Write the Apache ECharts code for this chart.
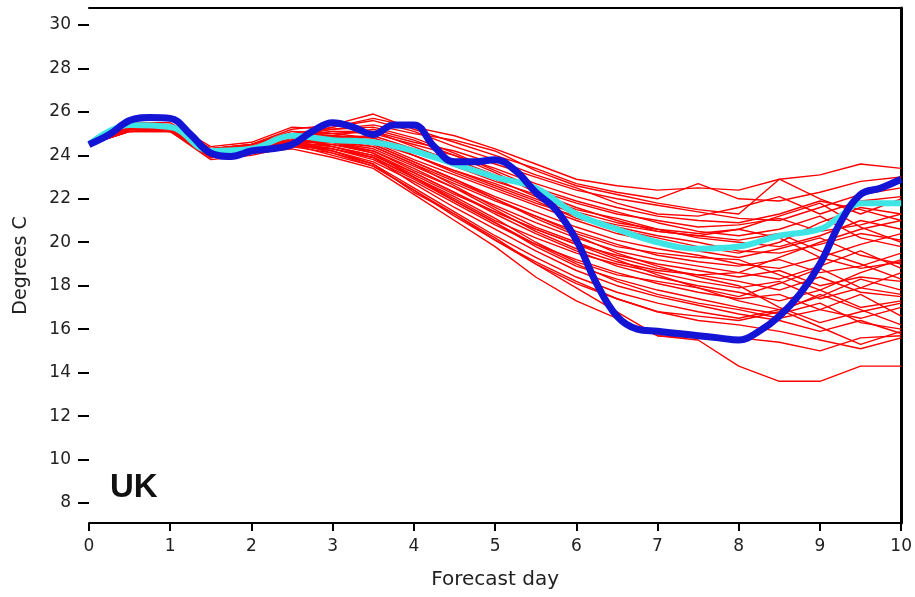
<!DOCTYPE html>
<html>
<head>
<meta charset="utf-8">
<script src="https://cdn.jsdelivr.net/npm/echarts@6/dist/echarts.min.js"></script>
<style>
html,body{margin:0;padding:0;background:#fff;}
#chart{width:915px;height:597px;}
</style>
</head>
<body>
<div id="chart"></div>
<script>
// ---- data ----
const memberDays = [0,0.5,1,1.5,2,2.5,3,3.5,4,4.5,5,5.5,6,6.5,7,7.5,8,8.5,9,9.5,10];
const members = [
  [24.5,25.4,25.4,24.3,24.4,25.0,25.3,25.7,25.3,24.9,24.3,23.6,22.9,22.6,22.4,22.5,22.4,22.9,23.1,23.6,23.4],
  [24.5,25.3,25.3,24.2,24.5,25.2,25.4,25.9,25.2,24.6,24.0,23.4,22.7,22.3,22.0,22.7,22.0,21.9,22.3,22.8,23.0],
  [24.5,25.5,25.5,24.4,24.6,25.3,25.2,25.4,25.0,24.7,24.2,23.3,22.6,22.2,21.8,21.5,21.3,22.9,22.0,21.3,22.0],
  [24.5,25.2,25.2,24.0,24.3,24.9,25.0,25.1,24.6,24.2,23.6,23.0,22.4,22.0,21.7,21.4,21.1,21.0,21.6,22.2,22.5],
  [24.5,25.4,25.3,24.1,24.3,24.8,25.1,25.0,24.5,24.0,23.4,22.7,22.1,21.6,21.2,21.0,20.9,21.3,21.9,21.5,21.0],
  [24.5,25.3,25.2,23.9,24.1,24.6,24.8,24.9,24.3,23.8,23.1,22.4,21.8,21.3,21.0,20.7,20.8,21.1,20.5,20.8,21.3],
  [24.5,25.5,25.4,24.2,24.4,24.9,25.2,25.3,24.8,24.1,23.3,22.5,21.9,21.4,20.9,20.5,20.3,20.6,21.2,20.2,19.8],
  [24.5,25.2,25.1,24.0,24.2,24.7,24.9,24.8,24.2,23.5,22.8,22.2,21.5,21.1,20.6,20.2,20.0,19.8,20.3,21.0,20.6],
  [24.5,25.4,25.4,24.3,24.5,25.1,25.0,24.8,24.0,23.3,22.7,22.0,21.3,20.7,20.3,20.0,19.6,19.5,19.9,20.4,20.1],
  [24.5,25.3,25.3,24.1,24.4,24.8,24.9,24.6,23.8,23.1,22.4,21.7,21.0,20.4,20.0,19.6,19.3,19.7,20.2,19.4,19.0],
  [24.5,25.1,25.2,24.0,24.2,24.6,24.7,24.5,23.7,22.9,22.1,21.4,20.7,20.1,19.7,19.4,19.0,18.8,19.3,19.9,20.4],
  [24.5,25.4,25.3,24.2,24.3,24.7,24.6,24.3,23.5,22.7,21.9,21.2,20.5,19.9,19.4,19.1,18.9,19.2,18.6,18.9,19.5],
  [24.5,25.2,25.2,23.9,24.1,24.5,24.5,24.2,23.3,22.5,21.7,20.9,20.2,19.6,19.2,18.9,18.6,18.3,18.9,19.6,18.8],
  [24.5,25.3,25.3,24.1,24.3,24.6,24.4,24.0,23.1,22.2,21.4,20.6,19.9,19.4,19.0,18.7,18.4,18.7,18.0,18.4,18.2],
  [24.5,25.5,25.4,24.3,24.4,24.8,24.7,24.4,23.6,22.6,21.6,20.7,20.0,19.3,18.8,18.5,18.2,17.8,18.4,17.7,17.5],
  [24.5,25.1,25.1,23.8,24.0,24.4,24.3,23.9,23.0,22.0,21.0,20.2,19.5,19.0,18.6,18.2,17.9,18.2,17.4,17.9,18.6],
  [24.5,25.4,25.3,24.2,24.4,24.7,24.5,24.1,23.2,22.3,21.3,20.4,19.6,18.9,18.4,18.0,17.7,17.3,17.8,17.0,17.3],
  [24.5,25.2,25.2,24.0,24.2,24.5,24.2,23.7,22.8,21.8,20.8,19.9,19.2,18.6,18.1,17.7,17.4,17.6,16.9,16.5,17.0],
  [24.5,25.3,25.2,24.1,24.3,24.6,24.3,23.8,22.9,21.9,20.9,19.8,18.9,18.3,17.8,17.4,17.0,16.7,17.2,16.3,16.0],
  [24.5,25.4,25.4,24.2,24.4,24.8,24.4,23.9,22.7,21.6,20.6,19.6,18.7,18.0,17.5,17.1,16.7,16.4,15.9,16.4,15.8],
  [24.5,25.2,25.3,24.0,24.2,24.4,24.1,23.6,22.5,21.4,20.3,19.3,18.4,17.7,17.2,16.8,16.5,16.9,16.1,15.3,15.9],
  [24.5,25.3,25.2,24.1,24.3,24.5,24.0,23.5,22.4,21.2,20.1,19.0,18.1,17.4,16.8,16.4,16.2,15.9,15.5,15.1,15.6],
  [24.5,25.1,25.2,23.9,24.1,24.3,23.9,23.4,22.2,21.0,19.8,18.4,17.3,16.5,15.7,15.6,15.6,15.4,15.0,15.6,15.7],
  [24.5,25.4,25.3,24.2,24.3,24.6,24.2,23.6,22.3,21.3,20.2,19.0,17.9,16.8,15.7,15.5,14.3,13.6,13.6,14.3,14.3],
  [24.5,25.3,25.4,24.3,24.5,25.0,24.9,24.7,24.0,23.2,22.5,21.8,21.2,20.8,20.5,20.3,20.1,20.4,19.6,19.0,18.3],
  [24.5,25.2,25.2,24.0,24.2,24.6,24.6,24.4,23.6,22.8,22.0,21.2,20.4,19.8,19.5,19.3,19.2,18.5,17.8,18.6,19.2],
  [24.5,25.4,25.3,24.1,24.3,24.7,24.6,24.2,23.4,22.5,21.5,20.5,19.7,19.1,18.7,18.5,18.6,19.3,20.0,20.6,21.0],
  [24.5,25.3,25.3,24.2,24.4,24.9,24.8,24.5,23.7,22.9,22.0,21.1,20.3,19.5,18.9,18.4,18.0,17.0,16.3,16.8,17.2],
  [24.5,25.1,25.1,23.9,24.1,24.5,24.3,23.9,23.0,22.1,21.1,20.0,19.1,18.5,18.2,17.9,17.5,18.1,18.8,17.9,17.6],
  [24.5,25.4,25.4,24.2,24.4,24.9,25.1,25.1,24.4,23.7,22.9,22.1,21.4,20.9,20.6,20.4,20.6,20.2,19.3,18.8,19.1],
  [24.5,25.3,25.2,24.1,24.3,24.7,24.8,24.6,24.0,23.3,22.6,21.9,21.1,20.6,20.2,19.8,19.5,20.0,20.9,21.6,21.3],
  [24.5,25.2,25.3,24.0,24.2,24.6,24.4,24.0,23.2,22.3,21.4,20.6,19.9,19.2,18.5,17.9,17.3,16.9,17.5,18.3,17.8],
  [24.5,25.5,25.4,24.3,24.5,25.0,24.6,24.1,23.0,21.9,20.9,19.9,19.0,18.2,17.6,17.2,16.9,16.5,16.9,17.6,16.6],
  [24.5,25.3,25.3,24.1,24.3,24.6,24.1,23.5,22.4,21.3,20.1,19.1,18.2,17.4,16.8,16.6,16.4,16.8,17.6,16.9,16.2],
  [24.5,25.4,25.3,24.2,24.4,24.8,25.3,25.6,25.1,24.4,23.8,23.1,22.5,21.8,21.3,21.2,21.6,22.1,21.3,21.9,22.1],
  [24.5,25.2,25.1,23.9,24.1,24.5,24.9,25.2,24.7,24.0,23.2,22.3,21.6,21.0,20.5,20.3,20.6,21.2,21.8,20.7,20.0]
];
const meanDays = [0,0.5,1,1.5,2,2.5,3,3.5,4,4.5,5,5.5,6,6.5,7,7.5,8,8.5,9,9.25,9.5,10];
const meanValues = [24.5,25.4,25.3,24.2,24.3,24.9,24.7,24.6,24.2,23.6,23.0,22.5,21.3,20.6,20.0,19.7,19.8,20.3,20.6,21.2,21.8,21.8];
const obsDays = [0,0.25,0.5,0.75,1,1.25,1.5,1.75,2,2.25,2.5,2.75,3,3.25,3.5,3.75,4,4.25,4.5,4.75,5,5.25,5.5,5.75,6,6.25,6.5,6.75,7,7.25,7.5,7.75,8,8.25,8.5,8.75,9,9.25,9.5,9.75,10];
const obsValues = [24.5,24.96,25.6,25.74,25.7,24.96,24.1,23.95,24.2,24.3,24.5,25.1,25.5,25.3,24.96,25.4,25.4,24.4,23.7,23.7,23.8,23.3,22.3,21.5,20.1,18.1,16.6,16.0,15.9,15.8,15.7,15.6,15.5,15.9,16.6,17.6,19.0,20.9,22.2,22.5,22.9];
const yTickValues = [8,10,12,14,16,18,20,22,24,26,28,30];
const xTickLabels = ['0','1','2','3','4','5','6','7','8','9','10'];

// ---- chart ----
const chart = echarts.init(document.getElementById('chart'));
const pair = (xs, ys) => xs.map((x, i) => [x, ys[i]]);
const series = [];
members.forEach((m, k) => {
  series.push({
    type: 'line', name: 'member' + (k + 1), data: pair(memberDays, m),
    showSymbol: false, symbol: 'none', silent: true,
    lineStyle: { color: '#ff0000', width: 1.4 }, z: 2
  });
});
series.push({
  type: 'line', name: 'mean', data: pair(meanDays, meanValues),
  showSymbol: false, symbol: 'none', smooth: 0.4, silent: true,
  lineStyle: { color: '#3fe4e4', width: 6 }, z: 3
});
series.push({
  type: 'line', name: 'observed', data: pair(obsDays, obsValues),
  showSymbol: false, symbol: 'none', smooth: 0.4, silent: true,
  lineStyle: { color: '#1414d4', width: 7 }, z: 4
});

const font = 'DejaVu Sans';
chart.setOption({
  animation: false,
  backgroundColor: '#ffffff',
  grid: { left: 89, right: 12, top: 8, bottom: 74 },
  xAxis: [{
    type: 'value', min: 0, max: 10, interval: 1,
    name: 'Forecast day', nameLocation: 'middle', nameGap: 47,
    nameTextStyle: { fontFamily: font, fontSize: 20, color: '#222' },
    axisLine: { show: true, onZero: false, lineStyle: { color: '#000', width: 2 } },
    axisTick: { show: true, length: 8, lineStyle: { color: '#000', width: 2 } },
    axisLabel: { fontFamily: font, fontSize: 17, color: '#222', margin: 15,
      formatter: (v) => xTickLabels[Math.round(v)] },
    splitLine: { show: false }
  }, {
    type: 'value', min: 0, max: 10, position: 'top',
    axisLine: { show: true, onZero: false, lineStyle: { color: '#000', width: 2 } },
    axisTick: { show: false }, axisLabel: { show: false }, splitLine: { show: false }
  }],
  yAxis: [{
    type: 'value', min: 7.08, max: 30.78,
    name: 'Degrees C', nameLocation: 'middle', nameGap: 58,
    nameTextStyle: { fontFamily: font, fontSize: 19, color: '#222' },
    axisLine: { show: false, onZero: false },
    axisTick: { show: true, length: 11, customValues: yTickValues, lineStyle: { color: '#000', width: 2 } },
    axisLabel: { fontFamily: font, fontSize: 17, color: '#222', margin: 18, customValues: yTickValues },
    splitLine: { show: false }
  }, {
    type: 'value', min: 7.08, max: 30.78, position: 'right',
    axisLine: { show: true, onZero: false, lineStyle: { color: '#000', width: 3 } },
    axisTick: { show: false }, axisLabel: { show: false }, splitLine: { show: false }
  }],
  graphic: [{
    type: 'text', left: 110, top: 471,
    style: { text: 'UK', fontFamily: 'Liberation Sans', fontWeight: 'bold', fontSize: 33, fill: '#111' }
  }],
  series: series
});
</script>
</body>
</html>
